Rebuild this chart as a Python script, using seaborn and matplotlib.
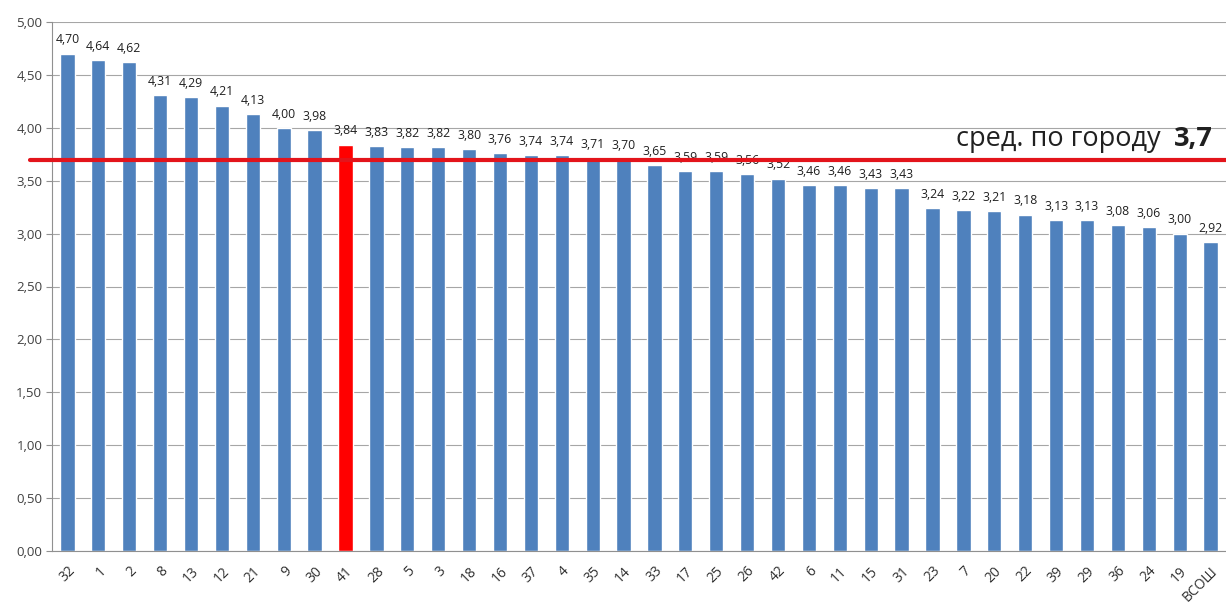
import numpy as np
import pandas as pd
import matplotlib
matplotlib.use("Agg")
import matplotlib.pyplot as plt
import seaborn as sns

# school labels and average scores
schools = ['32', '1', '2', '8', '13', '12', '21', '9', '30', '41', '28', '5', '3', '18',
           '16', '37', '4', '35', '14', '33', '17', '25', '26', '42', '6', '11', '15',
           '31', '23', '7', '20', '22', '39', '29', '36', '24', '19', 'ВСОШ']
scores = [4.70, 4.64, 4.62, 4.31, 4.29, 4.21, 4.13, 4.00, 3.98, 3.84, 3.83, 3.82, 3.82,
          3.80, 3.76, 3.74, 3.74, 3.71, 3.70, 3.65, 3.59, 3.59, 3.56, 3.52, 3.46, 3.46,
          3.43, 3.43, 3.24, 3.22, 3.21, 3.18, 3.13, 3.13, 3.08, 3.06, 3.00, 2.92]
highlight = '41'
city_avg = 3.7

sns.set_style('white')
plt.rcParams['font.family'] = ['Open Sans', 'DejaVu Sans']

df = pd.DataFrame({'school': schools, 'score': scores})
colors = ['#FF0000' if s == highlight else '#4F81BD' for s in schools]

fig = plt.figure(figsize=(12.26, 6.02), dpi=100)
ax = fig.add_axes([52 / 1226, 1 - 551 / 602, 1174 / 1226, 529 / 602])

sns.barplot(data=df, x='school', y='score', hue='school', palette=colors,
            legend=False, width=0.46, ax=ax, saturation=1)

ax.set_ylim(0, 5)
ax.set_xlim(-0.5, len(schools) - 0.5)
yt = np.arange(0, 5.01, 0.5)
ax.set_yticks(yt)
ax.set_yticklabels([f"{t:.2f}".replace('.', ',') for t in yt], fontsize=9.5, color='#404040')
ax.yaxis.grid(True, color='#A6A6A6', linewidth=0.8)
ax.set_axisbelow(True)
ax.set_xlabel('')
ax.set_ylabel('')

# ticks between categories, labels slanted
ax.set_xticks(range(len(schools)))
ax.set_xticklabels(schools, rotation=45, ha='right', rotation_mode='anchor',
                   fontsize=10, color='#303030')
ax.set_xticks(np.arange(-0.5, len(schools), 1), minor=True)
ax.tick_params(axis='x', which='major', length=0, pad=9)
ax.tick_params(axis='x', which='minor', length=5, color='#909090', width=0.8)
ax.tick_params(axis='y', length=4, color='#909090', width=0.8, left=True, pad=3)

for side in ['top', 'right']:
    ax.spines[side].set_visible(False)
for side in ['left', 'bottom']:
    ax.spines[side].set_color('#909090')
    ax.spines[side].set_linewidth(0.8)

# value labels
for i, v in enumerate(scores):
    ax.text(i, v + 0.13, f"{v:.2f}".replace('.', ','), ha='center', va='center',
            fontsize=8.8, color='#202020')

# city average line
ax.axhline(city_avg, xmin=-0.019, xmax=1.01, color='#E3141B', linewidth=3, clip_on=False,
           zorder=5)
trans = ax.get_yaxis_transform()
t37 = ax.text(0.989, 3.83, '3,7', transform=trans, ha='right', va='baseline',
              fontsize=19.5, fontweight='bold', color='#202020')
ax.annotate('сред. по городу  ', xy=(0, 3.83), xycoords=(t37, 'data'), ha='right',
            va='baseline', fontsize=19.5, color='#202020')

fig.savefig('out.png', dpi=100)
